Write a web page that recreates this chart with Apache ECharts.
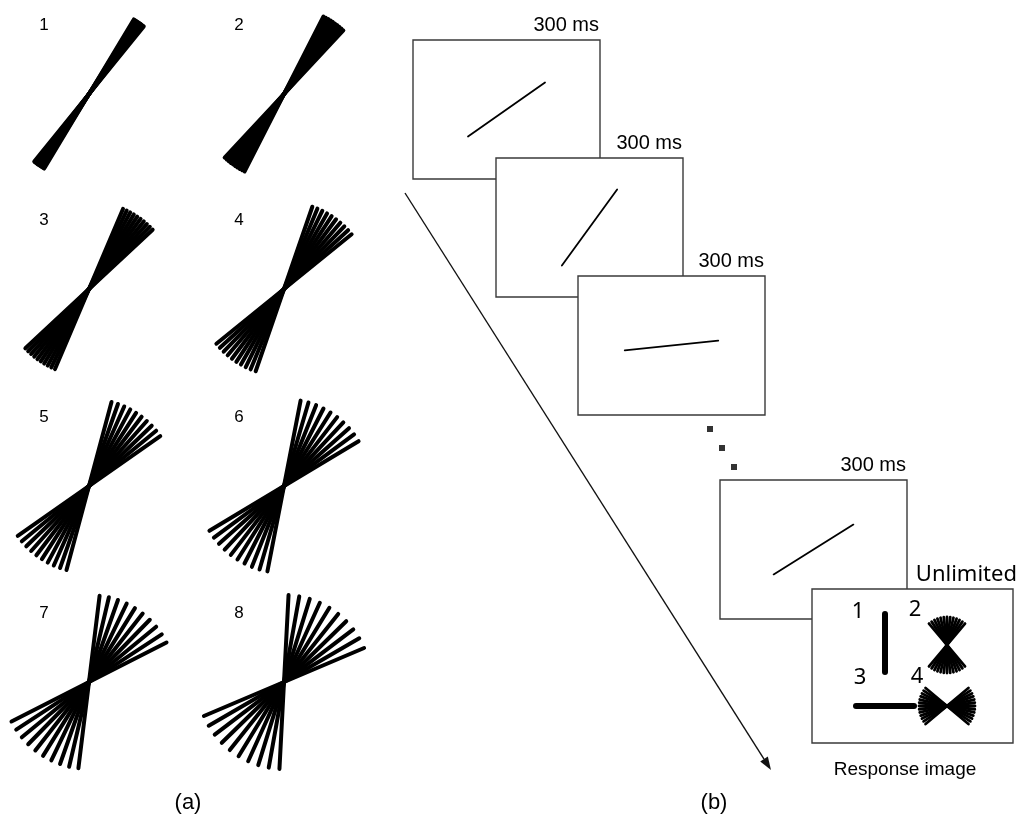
<!DOCTYPE html>
<html>
<head>
<meta charset="utf-8">
<script src="https://cdn.jsdelivr.net/npm/echarts@6/dist/echarts.min.js"></script>
<style>
  html, body { margin: 0; padding: 0; background: #fff; }
  #chart { width: 1018px; height: 823px; }
</style>
</head>
<body>
<div id="chart"></div>
<script>
// ---- Stimulus set (panel a): fans of oriented lines with growing spread ----
const stimulusLabels = ['1', '2', '3', '4', '5', '6', '7', '8'];
const stimulusSpreadDeg = [8, 16, 24, 32, 40, 48, 56, 64];
const stimulusMeanOrientationDeg = 55;
const stimulusLineCount = 10;

// ---- Trial sequence (panel b) ----
const frameDurations = ['300 ms', '300 ms', '300 ms', '300 ms'];
const frameLineOrientationDeg = [35, 54, 6, 32];
const responseDuration = 'Unlimited';
const responseCaption = 'Response image';
const responseLabels = ['1', '2', '3', '4'];
const responseSpreadDeg = [0, 80, 0, 80];
const responseOrientationDeg = [90, 90, 0, 0];
const panelLabels = ['(a)', '(b)'];

// ---- Layout (pixel-space coordinates on a hidden 1:1 grid) ----
const W = 1018, H = 823;
const stimColX = [89, 284];
const stimRowY = [94, 289, 486, 682];
const stimRadius = 87;
const frameOrigins = [[413, 40], [496, 158], [578, 276], [720, 480]];
const frameSize = [187, 139];
const frameLineHalf = 47;
const ellipsisDots = [[710, 429], [722, 448], [734, 467]];
const responseBox = [812, 589, 201, 154];
const responseItemCenters = [[885, 643], [947, 645], [885, 706], [947, 706]];
const responseLabelPos = [[858, 612], [915, 610], [860, 678], [917, 677]];
const arrowFrom = [405, 193], arrowTo = [771, 770];
const panelLabelPos = [[188, 803], [714, 803]];

function textEl(api, x, y, text, font, align, z2) {
  const p = api.coord([x, y]);
  return {
    type: 'text', z2: z2 || 0,
    style: {
      x: p[0], y: p[1], text: text, font: font, fill: '#000',
      align: align, verticalAlign: 'middle',
      textAlign: align, textVerticalAlign: 'middle'
    }
  };
}

function fanLines(api, cx, cy, meanDeg, spreadDeg, count, radius, width, z2) {
  const out = [];
  for (let k = 0; k < count; k++) {
    const t = count === 1 ? meanDeg : meanDeg - spreadDeg / 2 + spreadDeg * k / (count - 1);
    const rad = t * Math.PI / 180;
    const dx = Math.cos(rad) * radius, dy = Math.sin(rad) * radius;
    const p1 = api.coord([cx - dx, cy + dy]);
    const p2 = api.coord([cx + dx, cy - dy]);
    out.push({
      type: 'line', z2: z2 || 0,
      shape: { x1: p1[0], y1: p1[1], x2: p2[0], y2: p2[1] },
      style: { stroke: '#000', lineWidth: width, lineCap: 'round' }
    });
  }
  return out;
}

const chart = echarts.init(document.getElementById('chart'), null, { renderer: 'canvas' });

const option = {
  backgroundColor: '#fff',
  animation: false,
  grid: { left: 0, right: 0, top: 0, bottom: 0 },
  xAxis: { type: 'value', min: 0, max: W, show: false },
  yAxis: { type: 'value', min: 0, max: H, inverse: true, show: false },
  series: [
    // Panel (a): the eight stimuli
    {
      type: 'custom', clip: false, z: 2,
      data: stimulusSpreadDeg.map((s, i) => [i, s]),
      renderItem: function (params, api) {
        const i = api.value(0), spread = api.value(1);
        const cx = stimColX[i % 2], cy = stimRowY[Math.floor(i / 2)];
        const children = fanLines(api, cx, cy, stimulusMeanOrientationDeg, spread,
          stimulusLineCount, stimRadius, 4);
        children.push(textEl(api, cx - 45, cy - 69, stimulusLabels[i], '17px "Liberation Sans"', 'center'));
        return { type: 'group', children: children };
      }
    },
    // Panel (b): timeline arrow
    {
      type: 'custom', clip: false, z: 1,
      data: [[arrowFrom[0], arrowFrom[1], arrowTo[0], arrowTo[1]]],
      renderItem: function (params, api) {
        const a = api.coord([api.value(0), api.value(1)]);
        const b = api.coord([api.value(2), api.value(3)]);
        const ang = Math.atan2(b[1] - a[1], b[0] - a[0]);
        const len = 13, half = 4.5;
        const bx = b[0] - Math.cos(ang) * len, by = b[1] - Math.sin(ang) * len;
        const nx = -Math.sin(ang) * half, ny = Math.cos(ang) * half;
        return {
          type: 'group',
          children: [
            { type: 'line', shape: { x1: a[0], y1: a[1], x2: bx, y2: by },
              style: { stroke: '#111', lineWidth: 1.4 } },
            { type: 'polygon', shape: { points: [[b[0], b[1]], [bx + nx, by + ny], [bx - nx, by - ny]] },
              style: { fill: '#111' } }
          ]
        };
      }
    },
    // Stimulus frames, each shown for a fixed duration
    {
      type: 'custom', clip: false, z: 3,
      data: frameLineOrientationDeg.map((o, i) => [i, o]),
      renderItem: function (params, api) {
        const i = api.value(0), ori = api.value(1);
        const [x0, y0] = frameOrigins[i];
        const p0 = api.coord([x0, y0]);
        const p1 = api.coord([x0 + frameSize[0], y0 + frameSize[1]]);
        const cx = x0 + frameSize[0] / 2, cy = y0 + frameSize[1] / 2;
        const children = [
          { type: 'rect', z2: i * 3,
            shape: { x: p0[0], y: p0[1], width: p1[0] - p0[0], height: p1[1] - p0[1] },
            style: { fill: '#fff', stroke: '#3a3a3a', lineWidth: 1.4 } }
        ];
        fanLines(api, cx, cy, ori, 0, 1, frameLineHalf, 1.8, i * 3 + 1).forEach(c => children.push(c));
        children.push(textEl(api, x0 + frameSize[0] - 1, y0 - 15, frameDurations[i],
          '20px "Liberation Sans"', 'right', i * 3 + 2));
        return { type: 'group', children: children };
      }
    },
    // Ellipsis between frames
    {
      type: 'scatter', z: 3, symbol: 'rect', symbolSize: 6,
      itemStyle: { color: '#000' },
      data: ellipsisDots
    },
    // Response screen
    {
      type: 'custom', clip: false, z: 4,
      data: [[0]],
      renderItem: function (params, api) {
        const [x0, y0, w, h] = responseBox;
        const p0 = api.coord([x0, y0]);
        const p1 = api.coord([x0 + w, y0 + h]);
        return {
          type: 'group',
          children: [
            { type: 'rect', shape: { x: p0[0], y: p0[1], width: p1[0] - p0[0], height: p1[1] - p0[1] },
              style: { fill: '#fff', stroke: '#3a3a3a', lineWidth: 1.4 } },
            textEl(api, 1017, 575, responseDuration, '22px "Noto Sans"', 'right'),
            textEl(api, 905, 770, responseCaption, '19px "Liberation Sans"', 'center')
          ]
        };
      }
    },
    // Response options inside the response screen
    {
      type: 'custom', clip: false, z: 5,
      data: responseSpreadDeg.map((s, i) => [i, s, responseOrientationDeg[i]]),
      renderItem: function (params, api) {
        const i = api.value(0), spread = api.value(1), ori = api.value(2);
        const [cx, cy] = responseItemCenters[i];
        const children = spread === 0
          ? fanLines(api, cx, cy, ori, 0, 1, 29, 6)
          : fanLines(api, cx, cy, ori, spread, 13, 28, 2.8);
        const lp = responseLabelPos[i];
        children.push(textEl(api, lp[0], lp[1], responseLabels[i], '22px "Noto Sans"', 'center'));
        return { type: 'group', children: children };
      }
    },
    // Panel letters
    {
      type: 'custom', clip: false, z: 5,
      data: panelLabels.map((t, i) => [i]),
      renderItem: function (params, api) {
        const i = api.value(0);
        return textEl(api, panelLabelPos[i][0], panelLabelPos[i][1], panelLabels[i],
          '22px "Liberation Sans"', 'center');
      }
    }
  ]
};

chart.setOption(option);
</script>
</body>
</html>
